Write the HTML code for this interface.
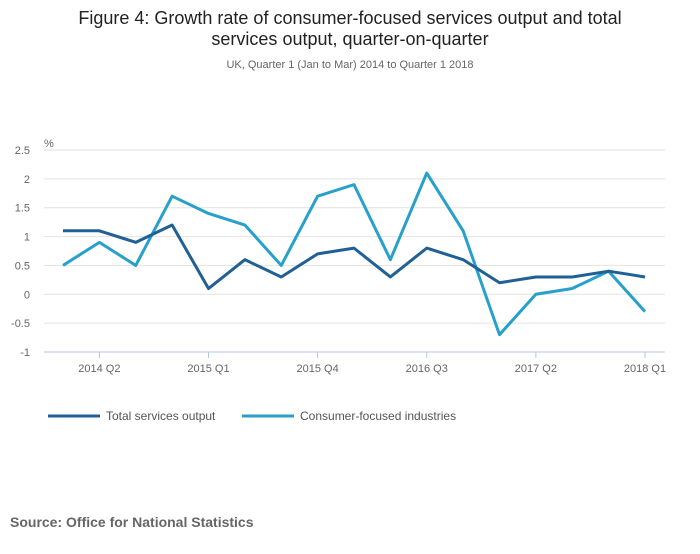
<!DOCTYPE html>
<html><head><meta charset="utf-8"><style>
body{margin:0;background:#fff;font-family:"Liberation Sans",sans-serif;}
</style></head><body>
<svg width="700" height="549" xmlns="http://www.w3.org/2000/svg" font-family="Liberation Sans, sans-serif">
<text x="350" y="24" text-anchor="middle" font-size="18" fill="#222">Figure 4: Growth rate of consumer-focused services output and total</text>
<text x="350" y="45" text-anchor="middle" font-size="18" fill="#222">services output, quarter-on-quarter</text>
<text x="350" y="68" text-anchor="middle" font-size="11" fill="#666">UK, Quarter 1 (Jan to Mar) 2014 to Quarter 1 2018</text>
<text x="44" y="147" font-size="11" fill="#666">%</text>
<g id="grid"></g><g id="xaxis"></g><g id="series"></g>
<g>
<line x1="48" y1="416" x2="100" y2="416" stroke="#206095" stroke-width="3"/>
<text x="106" y="420" font-size="12" fill="#555">Total services output</text>
<line x1="242" y1="416" x2="294" y2="416" stroke="#27a0cc" stroke-width="3"/>
<text x="300" y="420" font-size="12" fill="#555">Consumer-focused industries</text>
</g>
<text x="10" y="527" font-size="14" font-weight="bold" fill="#666">Source: Office for National Statistics</text>
</svg>
<script>
const categories=["2014 Q1","2014 Q2","2014 Q3","2014 Q4","2015 Q1","2015 Q2","2015 Q3","2015 Q4","2016 Q1","2016 Q2","2016 Q3","2016 Q4","2017 Q1","2017 Q2","2017 Q3","2017 Q4","2018 Q1"];
const totalServices=[1.1,1.1,0.9,1.2,0.1,0.6,0.3,0.7,0.8,0.3,0.8,0.6,0.2,0.3,0.3,0.4,0.3];
const consumerFocused=[0.5,0.9,0.5,1.7,1.4,1.2,0.5,1.7,1.9,0.6,2.1,1.1,-0.7,0.0,0.1,0.4,-0.3];
const yTicks=[2.5,2,1.5,1,0.5,0,-0.5,-1];
const xTickLabels=["2014 Q2","2015 Q1","2015 Q4","2016 Q3","2017 Q2","2018 Q1"];
const NS="http://www.w3.org/2000/svg";
const x0=63,x1=645,yTop=150,yBot=352,vMax=2.5,vMin=-1;
const xs=i=>x0+(x1-x0)*i/(categories.length-1);
const ys=v=>yTop+(vMax-v)/(vMax-vMin)*(yBot-yTop);
function mk(tag,attrs,parent){const e=document.createElementNS(NS,tag);for(const k in attrs)e.setAttribute(k,attrs[k]);parent.appendChild(e);return e;}
const grid=document.getElementById('grid');
yTicks.forEach(v=>{
 const l=mk('line',{x1:44,x2:665,y1:ys(v),y2:ys(v),stroke:v===vMin?'#b3c6e0':'#e2e2e2','stroke-width':1},grid);
 
 
 const t=mk('text',{x:30,y:ys(v)+4,'text-anchor':'end','font-size':11,fill:'#666'},grid);
 t.textContent=v;
 
 
});
const xa=document.getElementById('xaxis');
xTickLabels.forEach(lbl=>{
 const i=categories.indexOf(lbl),x=xs(i);
 const tk=mk('line',{x1:x,x2:x,y1:yBot,y2:yBot+6,stroke:'#b3c6e0'},xa);
 
 
 const t=mk('text',{x:x,y:yBot+20,'text-anchor':'middle','font-size':11,fill:'#666'},xa);
 t.textContent=lbl;
 
 
});
const sg=document.getElementById('series');
function line(vals,color,name){
 const p=mk('polyline',{points:vals.map((v,i)=>xs(i)+','+ys(v)).join(' '),fill:'none',stroke:color,'stroke-width':3,'stroke-linejoin':'round'},sg);
 
 
}
line(consumerFocused,'#27a0cc','line-consumer-focused');
line(totalServices,'#206095','line-total-services');
</script>
</body></html>
